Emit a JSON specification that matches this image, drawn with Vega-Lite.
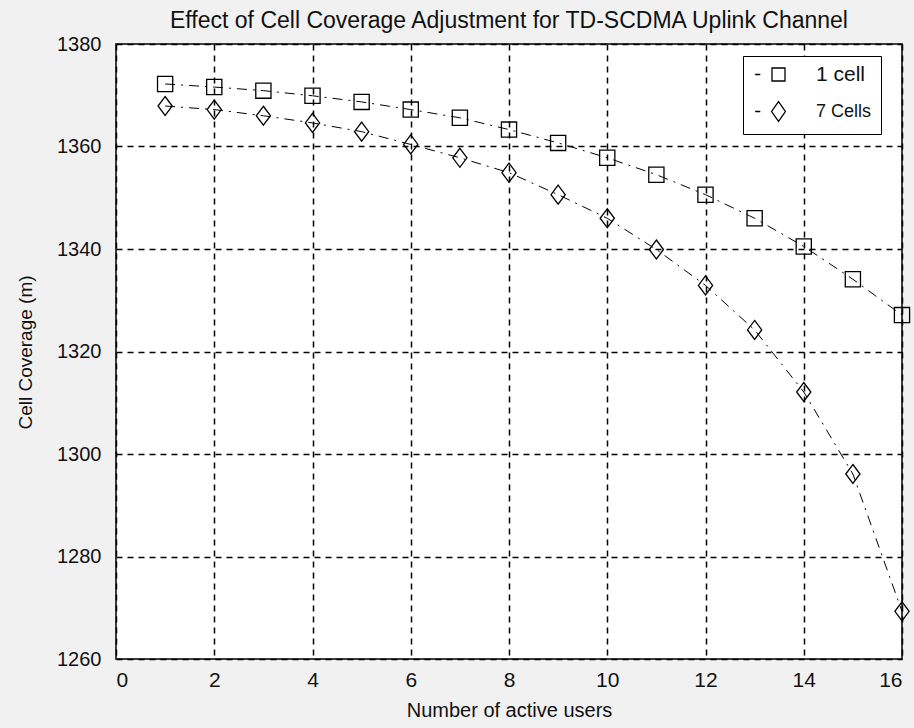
{
  "$schema": "https://vega.github.io/schema/vega-lite/v6.json",
  "width": 786,
  "height": 615,
  "autosize": {"type": "none"},
  "padding": {"left": 116, "top": 44, "right": 12, "bottom": 69},
  "background": "#f1f1f1",
  "title": {
    "text": "Effect of Cell Coverage Adjustment for TD-SCDMA Uplink Channel",
    "font": "Liberation Sans",
    "fontSize": 23,
    "fontWeight": "normal",
    "color": "#111",
    "anchor": "middle",
    "baseline": "alphabetic",
    "offset": -17
  },
  "config": {
    "view": {"stroke": "black", "strokeWidth": 1.5, "fill": "white"},
    "axis": {
      "labelFont": "Liberation Sans",
      "labelColor": "#111",
      "titleFont": "Liberation Sans",
      "titleFontWeight": "normal",
      "titleColor": "#111",
      "domain": false,
      "ticks": false,
      "gridColor": "black",
      "gridDash": [6, 5],
      "gridWidth": 1.5,
      "gridOpacity": 1
    }
  },
  "data": {
    "values": [
      {"users": 1, "coverage": 1372.2, "series": "1 cell"},
      {"users": 2, "coverage": 1371.6, "series": "1 cell"},
      {"users": 3, "coverage": 1370.9, "series": "1 cell"},
      {"users": 4, "coverage": 1369.9, "series": "1 cell"},
      {"users": 5, "coverage": 1368.7, "series": "1 cell"},
      {"users": 6, "coverage": 1367.2, "series": "1 cell"},
      {"users": 7, "coverage": 1365.6, "series": "1 cell"},
      {"users": 8, "coverage": 1363.3, "series": "1 cell"},
      {"users": 9, "coverage": 1360.7, "series": "1 cell"},
      {"users": 10, "coverage": 1357.8, "series": "1 cell"},
      {"users": 11, "coverage": 1354.5, "series": "1 cell"},
      {"users": 12, "coverage": 1350.6, "series": "1 cell"},
      {"users": 13, "coverage": 1346.0, "series": "1 cell"},
      {"users": 14, "coverage": 1340.5, "series": "1 cell"},
      {"users": 15, "coverage": 1334.1, "series": "1 cell"},
      {"users": 16, "coverage": 1327.1, "series": "1 cell"},
      {"users": 1, "coverage": 1367.9, "series": "7 Cells"},
      {"users": 2, "coverage": 1367.2, "series": "7 Cells"},
      {"users": 3, "coverage": 1366.0, "series": "7 Cells"},
      {"users": 4, "coverage": 1364.6, "series": "7 Cells"},
      {"users": 5, "coverage": 1362.9, "series": "7 Cells"},
      {"users": 6, "coverage": 1360.4, "series": "7 Cells"},
      {"users": 7, "coverage": 1357.8, "series": "7 Cells"},
      {"users": 8, "coverage": 1354.9, "series": "7 Cells"},
      {"users": 9, "coverage": 1350.6, "series": "7 Cells"},
      {"users": 10, "coverage": 1346.0, "series": "7 Cells"},
      {"users": 11, "coverage": 1339.9, "series": "7 Cells"},
      {"users": 12, "coverage": 1332.9, "series": "7 Cells"},
      {"users": 13, "coverage": 1324.2, "series": "7 Cells"},
      {"users": 14, "coverage": 1312.1, "series": "7 Cells"},
      {"users": 15, "coverage": 1296.1, "series": "7 Cells"},
      {"users": 16, "coverage": 1269.3, "series": "7 Cells"}
    ]
  },
  "encoding": {
    "x": {
      "field": "users",
      "type": "quantitative",
      "scale": {"domain": [0, 16], "nice": false},
      "axis": {
        "values": [0, 2, 4, 6, 8, 10, 12, 14, 16],
        "labelFontSize": 21,
        "labelPadding": 10,
        "title": "Number of active users",
        "titleFontSize": 20,
        "titleY": 51,
        "titleBaseline": "middle"
      }
    },
    "y": {
      "field": "coverage",
      "type": "quantitative",
      "scale": {"domain": [1260, 1380], "nice": false, "zero": false},
      "axis": {
        "values": [1260, 1280, 1300, 1320, 1340, 1360, 1380],
        "format": "d",
        "labelFontSize": 20,
        "labelPadding": 15,
        "title": "Cell Coverage (m)",
        "titleFontSize": 19,
        "titleX": -91,
        "titleY": 308,
        "titleAngle": -90,
        "titleAlign": "center",
        "titleBaseline": "middle"
      }
    }
  },
  "resolve": {"scale": {"shape": "independent"}},
  "layer": [
    {
      "mark": {"type": "line", "color": "black", "strokeWidth": 1, "strokeDash": [10, 6, 2, 6]},
      "encoding": {"detail": {"field": "series"}}
    },
    {
      "mark": {"type": "point", "filled": false, "color": "black", "strokeWidth": 1.3, "size": 361, "opacity": 1},
      "encoding": {
        "shape": {
          "field": "series",
          "type": "nominal",
          "scale": {
            "domain": ["1 cell", "7 Cells"],
            "range": ["M-0.8,-0.8H0.8V0.8H-0.8Z", "M0,-1L0.75,0L0,1L-0.75,0Z"]
          },
          "legend": null
        }
      }
    },
    {
      "transform": [{"filter": "false"}],
      "mark": {"type": "point", "filled": false, "color": "black", "strokeWidth": 1.3, "size": 300, "opacity": 1},
      "encoding": {
        "shape": {
          "field": "series",
          "type": "nominal",
          "scale": {
            "domain": ["1 cell", "7 Cells"],
            "range": ["M-2.7,0H-2.1M-0.75,-0.75H0.75V0.75H-0.75Z", "M-2.7,0H-2.1M0,-1.15L0.8,0L0,1.15L-0.8,0Z"]
          },
          "legend": {
            "title": null,
            "orient": "none",
            "legendX": 627,
            "legendY": 12,
            "strokeColor": "black",
            "fillColor": "white",
            "padding": 9,
            "symbolSize": 300,
            "symbolOffset": 17,
            "symbolStrokeColor": "black",
            "symbolStrokeWidth": 1.3,
            "symbolFillColor": "transparent",
            "labelFont": "Liberation Sans",
            "labelFontSize": 20,
            "labelColor": "#111",
            "labelOffset": 28,
            "rowPadding": 13,
            "encoding": {
              "labels": {
                "fontSize": {"value": {"expr": "datum.value === '1 cell' ? 21 : 18"}}
              }
            }
          }
        }
      }
    }
  ]
}
